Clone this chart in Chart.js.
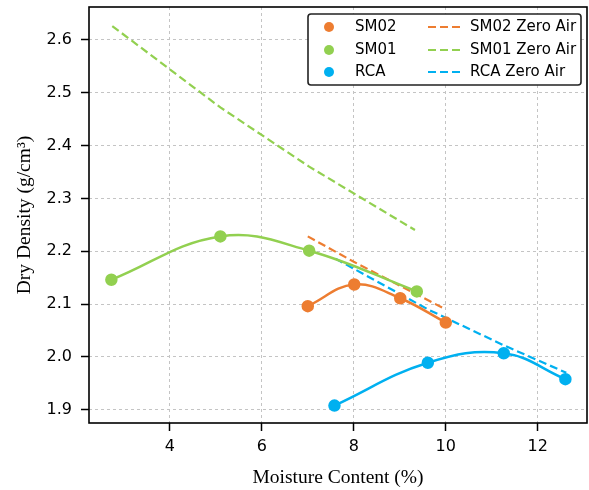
<!DOCTYPE html>
<html lang="en">
<head>
    <meta charset="UTF-8">
    <title>Dry Density vs Moisture Content</title>
    <script src="https://cdn.jsdelivr.net/npm/chart.js"></script>
    <style>
        body { margin: 0; background: #fff; }
        #wrap { width: 589px; height: 490px; }
    </style>
</head>
<body>
    <div id="wrap"><canvas id="densityChart" width="589" height="490"></canvas></div>

    <script>
        // values
        const sm02Moisture = [7.0, 8.01, 9.01, 10.0];
        const sm02Density  = [2.096, 2.137, 2.111, 2.065];
        const sm01Moisture = [2.73, 5.10, 7.03, 9.37];
        const sm01Density  = [2.146, 2.228, 2.201, 2.124];
        const rcaMoisture  = [7.58, 9.61, 11.26, 12.60];
        const rcaDensity   = [1.908, 1.989, 2.007, 1.958];

        const sm02ZeroAirMoisture = [7.0, 8.0, 9.0, 9.95];
        const sm02ZeroAir         = [2.228, 2.180, 2.135, 2.092];
        const sm01ZeroAirMoisture = [2.75, 5.10, 7.03, 9.33];
        const sm01ZeroAir         = [2.626, 2.472, 2.360, 2.240];
        const rcaZeroAirMoisture  = [7.6, 9.61, 11.26, 12.62];
        const rcaZeroAir          = [2.186, 2.090, 2.022, 1.970];

        const xTicks = [4, 6, 8, 10, 12];
        const yTicks = [1.9, 2.0, 2.1, 2.2, 2.3, 2.4, 2.5, 2.6];

        const ORANGE = '#ED7D31';
        const GREEN = '#92D050';
        const BLUE = '#00B0F0';

        const pts = (xs, ys) => xs.map((x, i) => ({ x: x, y: ys[i] }));

        function measured(label, xs, ys, color) {
            return {
                label: label,
                data: pts(xs, ys),
                borderColor: color,
                backgroundColor: color,
                borderWidth: 2.5,
                pointRadius: 5,
                pointHoverRadius: 5,
                tension: 0.4,
                showLine: true
            };
        }

        function zeroAir(label, xs, ys, color) {
            return {
                label: label,
                data: pts(xs, ys),
                borderColor: color,
                backgroundColor: color,
                borderWidth: 2.2,
                borderDash: [8, 4],
                pointRadius: 0,
                showLine: true
            };
        }

        // box around the plot area
        const frame = {
            id: 'frame',
            afterDraw(chart) {
                const a = chart.chartArea, c = chart.ctx;
                c.save();
                c.strokeStyle = '#000';
                c.lineWidth = 1.6;
                c.strokeRect(a.left, a.top, a.right - a.left, a.bottom - a.top);
                c.restore();
            }
        };

        // two-column legend like the original
        const boxLegend = {
            id: 'boxLegend',
            afterDraw(chart) {
                const c = chart.ctx;
                const ds = chart.data.datasets;
                const x0 = 308, y0 = 14, w = 273, h = 71;
                c.save();
                c.fillStyle = '#fff';
                c.strokeStyle = '#222';
                c.lineWidth = 1.6;
                c.beginPath();
                c.roundRect(x0, y0, w, h, 3);
                c.fill();
                c.stroke();
                c.font = '15px "DejaVu Sans"';
                c.textBaseline = 'middle';
                const rows = [27, 50, 72];
                for (let i = 0; i < 3; i++) {
                    const m = ds[i], z = ds[i + 3];
                    c.fillStyle = m.borderColor;
                    c.beginPath();
                    c.arc(329, rows[i], 5, 0, Math.PI * 2);
                    c.fill();
                    c.fillStyle = '#000';
                    c.fillText(m.label, 355, rows[i]);
                    c.strokeStyle = z.borderColor;
                    c.lineWidth = 2.2;
                    c.setLineDash(z.borderDash);
                    c.beginPath();
                    c.moveTo(428, rows[i]);
                    c.lineTo(460, rows[i]);
                    c.stroke();
                    c.setLineDash([]);
                    c.fillText(z.label, 470, rows[i]);
                }
                c.restore();
            }
        };

        const gridCommon = {
            color: '#c4c4c4',
            lineWidth: 1,
            tickColor: '#000',
            tickLength: 8,
            tickWidth: 1.5,
            tickBorderDash: []
        };

        const ctx = document.getElementById('densityChart').getContext('2d');
        new Chart(ctx, {
            type: 'scatter',
            data: {
                datasets: [
                    measured('SM02', sm02Moisture, sm02Density, ORANGE),
                    measured('SM01', sm01Moisture, sm01Density, GREEN),
                    measured('RCA', rcaMoisture, rcaDensity, BLUE),
                    zeroAir('SM02 Zero Air', sm02ZeroAirMoisture, sm02ZeroAir, ORANGE),
                    zeroAir('SM01 Zero Air', sm01ZeroAirMoisture, sm01ZeroAir, GREEN),
                    zeroAir('RCA Zero Air', rcaZeroAirMoisture, rcaZeroAir, BLUE)
                ]
            },
            options: {
                responsive: false,
                animation: false,
                layout: { autoPadding: false, padding: { top: 7, right: 2, left: 0, bottom: 0 } },
                plugins: {
                    legend: { display: false },
                    tooltip: { enabled: false }
                },
                scales: {
                    x: {
                        type: 'linear',
                        min: 2.244,
                        max: 13.07,
                        afterBuildTicks: s => { s.ticks = xTicks.map(v => ({ value: v })); },
                        afterFit: s => { s.height = 67; s.paddingLeft = 0; s.paddingRight = 0; },
                        grid: gridCommon,
                        border: { display: false, dash: [3, 3] },
                        ticks: {
                            color: '#000',
                            padding: 6,
                            font: { family: '"DejaVu Sans"', size: 16 }
                        },
                        title: {
                            display: true,
                            text: 'Moisture Content (%)',
                            color: '#000',
                            padding: { top: 4, bottom: 0 },
                            font: { family: '"Liberation Serif"', size: 19.5 }
                        }
                    },
                    y: {
                        type: 'linear',
                        min: 1.875,
                        max: 2.662,
                        afterBuildTicks: s => { s.ticks = yTicks.map(v => ({ value: v })); },
                        afterFit: s => { s.width = 89; s.paddingTop = 0; s.paddingBottom = 0; },
                        grid: gridCommon,
                        border: { display: false, dash: [3, 3] },
                        ticks: {
                            color: '#000',
                            padding: 9,
                            callback: v => v.toFixed(1),
                            font: { family: '"DejaVu Sans"', size: 16 }
                        },
                        title: {
                            display: true,
                            text: 'Dry Density (g/cm³)',
                            color: '#000',
                            padding: { top: 13, bottom: 0 },
                            font: { family: '"Liberation Serif"', size: 19.5 }
                        }
                    }
                }
            },
            plugins: [frame, boxLegend]
        });
    </script>
</body>
</html>
